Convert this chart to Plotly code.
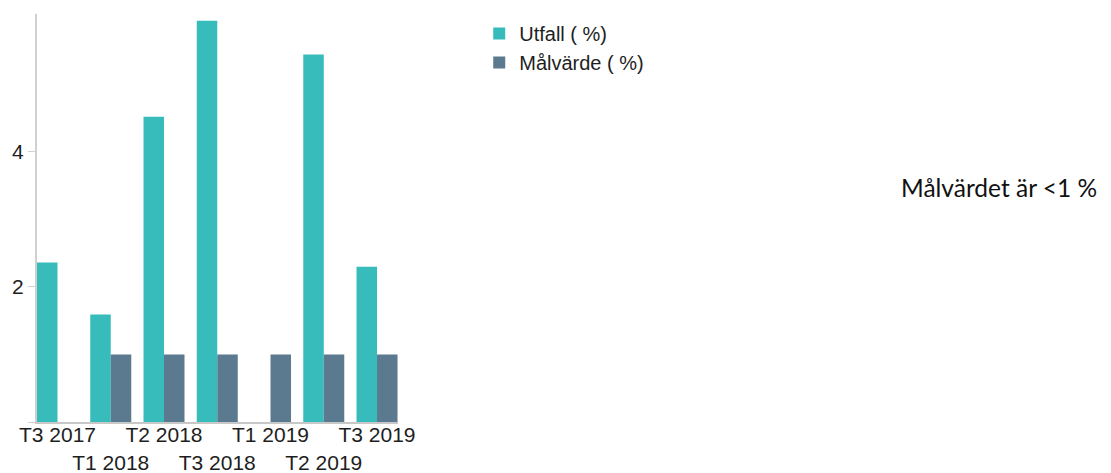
import plotly.graph_objects as go

categories = ["T3 2017", "T1 2018", "T2 2018", "T3 2018", "T1 2019", "T2 2019", "T3 2019"]
utfall = [2.36, 1.59, 4.52, 5.94, None, 5.44, 2.30]
malvarde = [None, 1, 1, 1, 1, 1, 1]
tick_labels = [c if i % 2 == 0 else "<br>" + c for i, c in enumerate(categories)]

teal = "#37BCBB"
slate = "#5B7A90"

fig = go.Figure()
fig.add_trace(go.Bar(x=categories, y=utfall, name="Utfall ( %)", marker_color=teal,
                     marker_line_width=0))
fig.add_trace(go.Bar(x=categories, y=malvarde, name="Målvärde ( %)", marker_color=slate,
                     marker_line_width=0))

fig.update_layout(
    width=1111, height=473,
    margin=dict(l=37, r=713, t=14, b=51, autoexpand=False),
    paper_bgcolor="white", plot_bgcolor="white",
    barmode="group", bargap=0.23, bargroupgap=0,
    font=dict(family="Liberation Sans, Arial, sans-serif", size=20, color="#1e1e1e"),
    showlegend=True,
    legend=dict(x=1.225, y=1.0, xanchor="left", yanchor="top",
                font=dict(size=20, color="#1e1e1e"), tracegroupgap=0,
                bgcolor="rgba(0,0,0,0)"),
    annotations=[dict(text="Målvärdet är <1 %", x=2.388, y=0.574, xref="paper", yref="paper",
                      xanchor="left", yanchor="middle", showarrow=False,
                      font=dict(family="Lato, Open Sans, sans-serif", size=24.5, color="#111"))],
)
fig.update_xaxes(range=[-0.385, 6.394], tickvals=categories, ticktext=tick_labels,
                 tickangle=0, automargin=False, ticklabelstandoff=-7,
                 showline=True, linecolor="#c8c8c8", linewidth=2, showgrid=False,
                 ticks="", tickfont=dict(size=21), zeroline=False)
fig.update_yaxes(range=[0, 6.04], tickvals=[0, 2, 4], ticktext=["", "2", "4"],
                 automargin=False,
                 showline=True, linecolor="#d0d0d0", linewidth=2, showgrid=False,
                 ticks="outside", ticklen=7, tickcolor="#d0d0d0", zeroline=False,
                 tickfont=dict(size=21))

fig.write_html("out.html", config={"displayModeBar": False},
               post_script="document.body.style.margin='0';document.body.style.overflow='hidden';")
